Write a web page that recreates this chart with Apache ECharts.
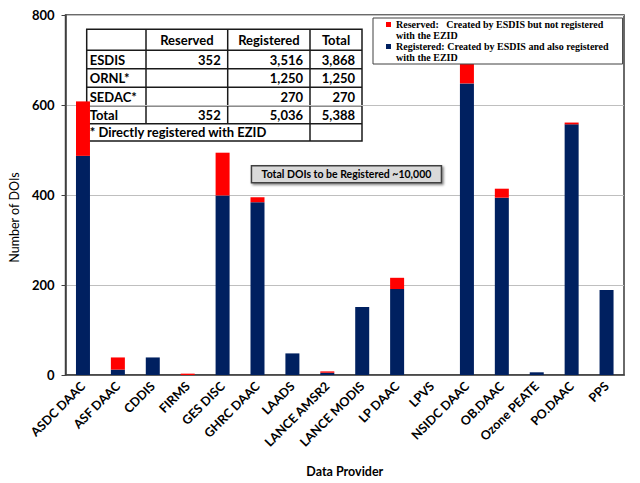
<!DOCTYPE html>
<html>
<head>
<meta charset="utf-8">
<script src="https://cdn.jsdelivr.net/npm/echarts@6/dist/echarts.min.js"></script>
<style>
  html, body { margin: 0; padding: 0; background: #fff; }
  #chart { width: 640px; height: 483px; }
</style>
</head>
<body>
<div id="chart"></div>
<script>
// data providers on the x axis
const providers = ['ASDC DAAC', 'ASF DAAC', 'CDDIS', 'FIRMS', 'GES DISC', 'GHRC DAAC', 'LAADS',
  'LANCE AMSR2', 'LANCE MODIS', 'LP DAAC', 'LPVS', 'NSIDC DAAC', 'OB.DAAC', 'Ozone PEATE', 'PO.DAAC', 'PPS'];
// registered with EZID (navy, bottom of stack)
const registered = [487, 12, 39, 0, 399, 384, 48, 5, 151, 191, 0, 648, 394, 6, 557, 189];
// reserved only (red, top of stack)
const reserved = [121, 27, 0, 3, 95, 11, 0, 3, 0, 25, 0, 43, 20, 0, 4, 0];
const yTicks = { min: 0, max: 800, interval: 200 };

// summary table in the corner
const tableHead = ['', 'Reserved', 'Registered', 'Total'];
const tableRows = [
  ['ESDIS', '352', '3,516', '3,868'],
  ['ORNL*', '', '1,250', '1,250'],
  ['SEDAC*', '', '270', '270'],
  ['Total', '352', '5,036', '5,388'],
];
const tableNote = '* Directly registered with EZID';
const totalNote = 'Total DOIs to be Registered ~10,000';

const legendText = {
  Reserved: 'Reserved:   Created by ESDIS but not registered\nwith the EZID',
  Registered: 'Registered: Created by ESDIS and also registered\nwith the EZID',
};

const font = 'Lato, "Open Sans", sans-serif';
// small square sitting on the first of two text lines
const legendIcon = 'path://M0,0L0,0M0,3L5,3L5,8L0,8ZM0,22L0,22';

// table layout
function buildTable() {
  const colX = [86.7, 146, 227.7, 310, 362];
  const rowY = [29.3, 50.3, 68.7, 87.3, 105.7, 123.7, 141];
  const els = [];
  const line = { stroke: '#1a1a1a', lineWidth: 1.5 };
  els.push({ type: 'rect', shape: { x: colX[0], y: rowY[0], width: colX[4] - colX[0], height: rowY[6] - rowY[0] },
    style: { fill: '#fff', stroke: '#1a1a1a', lineWidth: 1.5 } });
  for (let r = 1; r < 6; r++) {
    els.push({ type: 'line', shape: { x1: colX[0], y1: rowY[r], x2: colX[4], y2: rowY[r] }, style: line });
  }
  // vertical lines (last row merges first 3 columns)
  [1, 2].forEach((c) => {
    els.push({ type: 'line', shape: { x1: colX[c], y1: rowY[0], x2: colX[c], y2: rowY[5] }, style: line });
  });
  els.push({ type: 'line', shape: { x1: colX[3], y1: rowY[0], x2: colX[3], y2: rowY[6] }, style: line });

  const txt = (s, x, y, align) => ({
    type: 'text', x, y,
    style: { text: s, fill: '#000', font: 'bold 13px ' + font, align, verticalAlign: 'middle' },
  });
  tableHead.forEach((h, c) => {
    if (h) els.push(txt(h, (colX[c] + colX[c + 1]) / 2, (rowY[0] + rowY[1]) / 2, 'center'));
  });
  tableRows.forEach((row, r) => {
    const cy = (rowY[r + 1] + rowY[r + 2]) / 2;
    row.forEach((v, c) => {
      if (!v) return;
      if (c === 0) els.push(txt(v, colX[0] + 3, cy, 'left'));
      else els.push(txt(v, colX[c + 1] - 7, cy, 'right'));
    });
  });
  els.push(txt(tableNote, colX[0] + 3, (rowY[5] + rowY[6]) / 2, 'left'));
  return els;
}

const chart = echarts.init(document.getElementById('chart'), null, { renderer: 'svg' });
chart.setOption({
  animation: false,
  backgroundColor: '#fff',
  grid: { left: 54.3, right: 16, top: 15, bottom: 104.7, show: true, borderColor: '#3a3a3a', borderWidth: 1.5 },
  legend: {
    data: ['Reserved', 'Registered'],
    orient: 'vertical',
    left: 373, top: 18,
    padding: [1, 14, 1, 13],
    itemGap: 0,
    itemWidth: 5, itemHeight: 22,
    icon: legendIcon,
    borderColor: '#404040', borderWidth: 1,
    backgroundColor: '#fff',
    formatter: (name) => legendText[name],
    textStyle: { fontFamily: '"Liberation Serif", serif', fontWeight: 'bold', fontSize: 10, lineHeight: 11, color: '#000' },
  },
  xAxis: {
    type: 'category',
    data: providers,
    name: 'Data Provider',
    nameLocation: 'middle',
    nameGap: 90,
    nameTextStyle: { fontFamily: font, fontWeight: 'bold', fontSize: 12.5, color: '#000' },
    axisLine: { lineStyle: { color: '#404040', width: 1.5 } },
    axisTick: { lineStyle: { color: '#404040' }, length: 5 },
    axisLabel: { rotate: 45, interval: 0, fontFamily: font, fontWeight: 'bold', fontSize: 12.5, color: '#000', margin: 9 },
  },
  yAxis: {
    type: 'value',
    min: yTicks.min, max: yTicks.max, interval: yTicks.interval,
    name: 'Number of DOIs',
    nameLocation: 'middle',
    nameGap: 38,
    nameTextStyle: { fontFamily: font, fontSize: 12.5, color: '#000', padding: [0, 45, 0, 0] },
    axisLine: { show: true, lineStyle: { color: '#404040', width: 1.5 } },
    axisTick: { show: true, length: 4, lineStyle: { color: '#404040' } },
    axisLabel: { fontFamily: font, fontWeight: 'bold', fontSize: 13, color: '#000', margin: 11 },
    splitLine: { lineStyle: { color: '#bfbfbf', width: 1.2 } },
  },
  series: [
    {
      name: 'Registered', type: 'bar', stack: 'doi', data: registered,
      barWidth: 14, itemStyle: { color: '#002060' },
    },
    {
      name: 'Reserved', type: 'bar', stack: 'doi', data: reserved,
      barWidth: 14, itemStyle: { color: '#ff0000' },
    },
  ],
  graphic: [
    { type: 'group', children: buildTable() },
    {
      type: 'group', left: 250.7, top: 165,
      children: [
        { type: 'rect', shape: { x: 0, y: 0, width: 190, height: 17 },
          style: { fill: '#d9d9d9', stroke: '#404040', lineWidth: 1.5, shadowBlur: 2, shadowOffsetX: 1.5, shadowOffsetY: 1.5, shadowColor: 'rgba(0,0,0,0.5)' } },
        { type: 'text', x: 95, y: 8.5,
          style: { text: totalNote, fill: '#000', font: 'bold 10.5px ' + font, align: 'center', verticalAlign: 'middle' } },
      ],
    },
  ],
});
</script>
</body>
</html>
